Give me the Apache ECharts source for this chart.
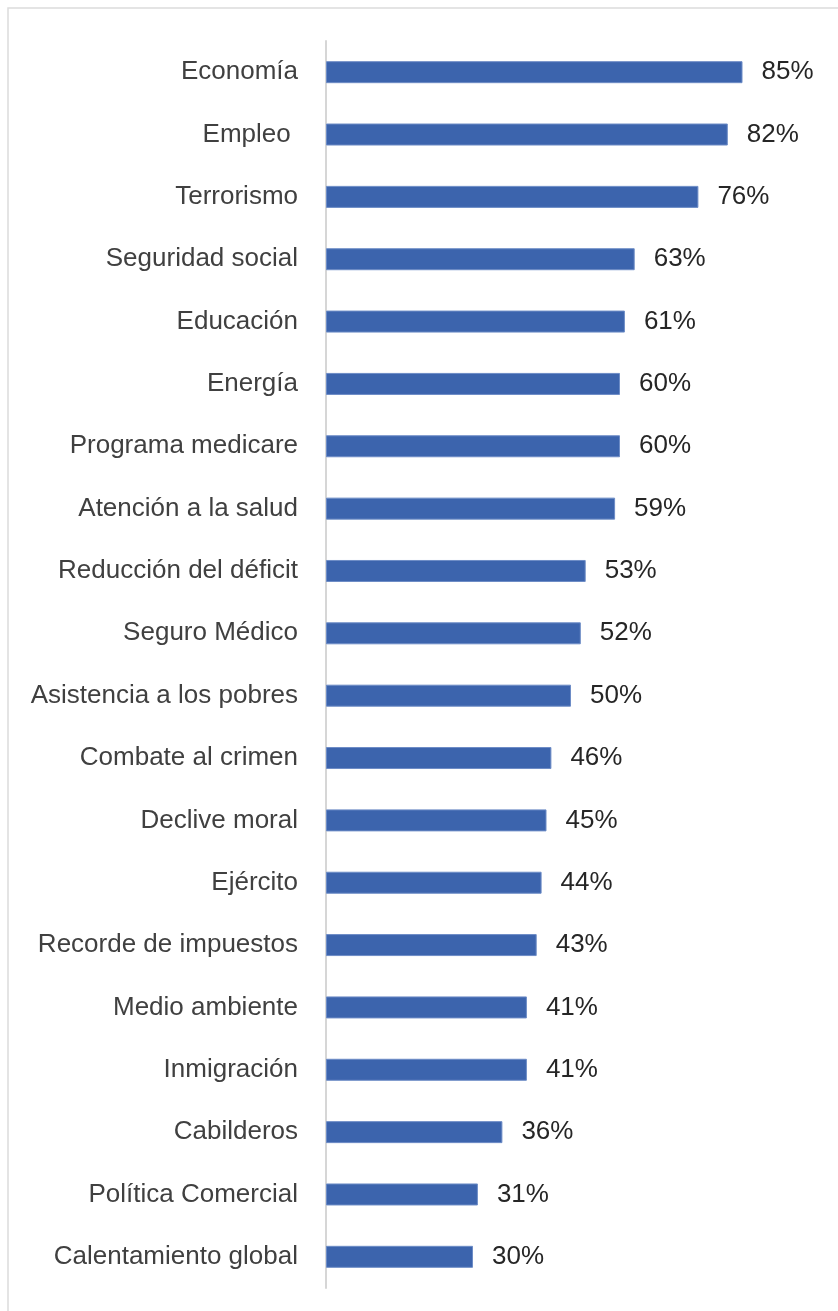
<!DOCTYPE html>
<html>
<head>
<meta charset="utf-8">
<script src="https://cdn.jsdelivr.net/npm/echarts@6/dist/echarts.min.js"></script>
<style>
  html, body { margin: 0; padding: 0; background: #ffffff; }
  #chart { width: 838px; height: 1311px; }
</style>
</head>
<body>
<div id="chart"></div>
<script>
// Issues and the share of respondents rating each as important (%)
const categories = [
  'Economía', 'Empleo ', 'Terrorismo', 'Seguridad social', 'Educación',
  'Energía', 'Programa medicare', 'Atención a la salud', 'Reducción del déficit', 'Seguro Médico',
  'Asistencia a los pobres', 'Combate al crimen', 'Declive moral', 'Ejército', 'Recorde de impuestos',
  'Medio ambiente', 'Inmigración', 'Cabilderos', 'Política Comercial', 'Calentamiento global'
];
const values = [85, 82, 76, 63, 61, 60, 60, 59, 53, 52, 50, 46, 45, 44, 43, 41, 41, 36, 31, 30];

const chart = echarts.init(document.getElementById('chart'), null, { renderer: 'canvas' });

chart.setOption({
  animation: false,
  backgroundColor: '#ffffff',
  textStyle: { fontFamily: '"Liberation Sans", Arial, sans-serif' },
  graphic: [{
    type: 'rect',
    silent: true,
    shape: { x: 8, y: 8, width: 900, height: 1400 },
    style: { fill: 'none', stroke: '#dcdcdc', lineWidth: 1.5 }
  }],
  grid: { left: 326, right: 22, top: 41, height: 1247, containLabel: false },
  xAxis: {
    type: 'value',
    min: 0,
    max: 100,
    show: false,
    splitLine: { show: false }
  },
  yAxis: {
    type: 'category',
    inverse: true,
    data: categories,
    axisTick: { show: false },
    axisLine: { show: true, lineStyle: { color: '#d6d6d6', width: 2 } },
    axisLabel: {
      margin: 28,
      fontSize: 26,
      color: '#404040',
      fontFamily: '"Liberation Sans", Arial, sans-serif'
    }
  },
  series: [{
    type: 'bar',
    data: values,
    barWidth: 22,
    itemStyle: { color: '#3C64AD', borderColor: '#6d8cc6', borderWidth: 1 },
    label: {
      show: true,
      position: 'right',
      distance: 19,
      formatter: '{c}%',
      fontSize: 26,
      color: '#262626',
      fontFamily: '"Liberation Sans", Arial, sans-serif'
    }
  }]
});
</script>
</body>
</html>
